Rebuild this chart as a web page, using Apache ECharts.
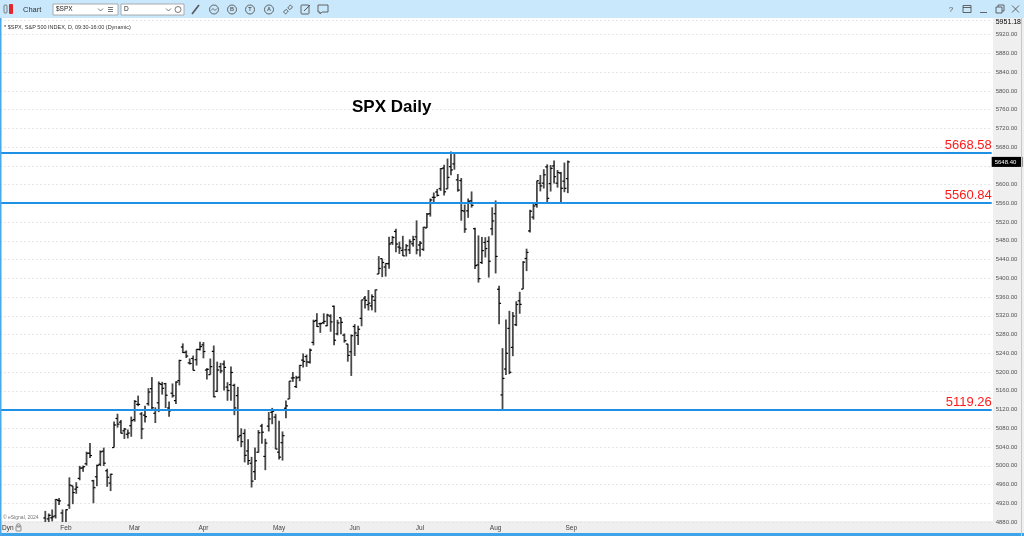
<!DOCTYPE html>
<html>
<head>
<meta charset="utf-8">
<script src="https://cdn.jsdelivr.net/npm/echarts@6/dist/echarts.min.js"></script>
<style>
html,body{margin:0;padding:0;background:#fff;}
#chart{width:1024px;height:536px;}
</style>
</head>
<body>
<div id="chart"></div>
<script>
// ---- data ----
const dates = [
 'Jan 24','Jan 25','Jan 26','Jan 29','Jan 30','Jan 31',
 'Feb 1','Feb 2','Feb 5','Feb 6','Feb 7','Feb 8','Feb 9','Feb 12','Feb 13','Feb 14','Feb 15','Feb 16','Feb 20','Feb 21','Feb 22','Feb 23','Feb 26','Feb 27','Feb 28','Feb 29',
 'Mar 1','Mar 4','Mar 5','Mar 6','Mar 7','Mar 8','Mar 11','Mar 12','Mar 13','Mar 14','Mar 15','Mar 18','Mar 19','Mar 20','Mar 21','Mar 22','Mar 25','Mar 26','Mar 27','Mar 28',
 'Apr 1','Apr 2','Apr 3','Apr 4','Apr 5','Apr 8','Apr 9','Apr 10','Apr 11','Apr 12','Apr 15','Apr 16','Apr 17','Apr 18','Apr 19','Apr 22','Apr 23','Apr 24','Apr 25','Apr 26','Apr 29','Apr 30',
 'May 1','May 2','May 3','May 6','May 7','May 8','May 9','May 10','May 13','May 14','May 15','May 16','May 17','May 20','May 21','May 22','May 23','May 24','May 28','May 29','May 30','May 31',
 'Jun 3','Jun 4','Jun 5','Jun 6','Jun 7','Jun 10','Jun 11','Jun 12','Jun 13','Jun 14','Jun 17','Jun 18','Jun 20','Jun 21','Jun 24','Jun 25','Jun 26','Jun 27','Jun 28',
 'Jul 1','Jul 2','Jul 3','Jul 5','Jul 8','Jul 9','Jul 10','Jul 11','Jul 12','Jul 15','Jul 16','Jul 17','Jul 18','Jul 19','Jul 22','Jul 23','Jul 24','Jul 25','Jul 26','Jul 29','Jul 30','Jul 31',
 'Aug 1','Aug 2','Aug 5','Aug 6','Aug 7','Aug 8','Aug 9','Aug 12','Aug 13','Aug 14','Aug 15','Aug 16','Aug 19','Aug 20','Aug 21','Aug 22','Aug 23','Aug 26','Aug 27','Aug 28','Aug 29','Aug 30'
];
const opens = [
 4888.56,4886.66,4888.91,4892.95,4925.89,4899.19,
 4861.11,4916.06,4957.19,4950.16,4973.05,4995.16,5004.17,5026.83,4967.94,4976.44,5003.14,5031.13,4989.32,4963.03,5038.83,5100.92,5093.00,5074.60,5067.20,5085.36,
 5098.51,5130.99,5110.52,5108.03,5132.38,5164.46,5111.96,5134.30,5173.49,5175.14,5123.31,5154.77,5139.09,5181.69,5253.43,5242.48,5219.52,5228.85,5226.31,5248.03,
 5257.97,5204.29,5194.37,5244.05,5158.95,5211.37,5217.03,5167.88,5172.95,5171.51,5149.67,5064.59,5068.97,5031.52,5005.44,4987.33,5028.85,5084.86,5019.88,5084.65,5114.13,5103.78,
 5029.03,5049.32,5122.78,5142.42,5187.20,5168.98,5189.03,5225.49,5233.08,5221.10,5263.26,5310.07,5303.10,5305.35,5298.69,5319.28,5340.26,5281.45,5315.91,5278.73,5259.77,5243.21,
 5297.15,5278.24,5314.48,5357.80,5343.81,5341.22,5353.00,5409.13,5441.93,5424.08,5431.11,5476.15,5499.99,5466.77,5459.58,5460.73,5460.71,5473.59,5488.48,
 5471.08,5461.84,5507.44,5537.91,5572.75,5584.24,5591.26,5635.21,5590.76,5638.16,5644.09,5610.07,5608.56,5543.37,5544.00,5565.30,5505.84,5428.70,5433.67,5476.55,5478.73,5505.59,
 5537.84,5376.63,5151.14,5206.42,5293.13,5252.57,5301.00,5351.88,5376.98,5442.31,5501.12,5530.50,5557.23,5602.88,5603.09,5637.77,5602.13,5639.66,5602.89,5624.51,5607.30,5612.74
];
const highs = [
 4903.68,4898.15,4906.69,4929.31,4931.09,4906.75,
 4906.97,4975.29,4957.19,4964.91,4999.89,5000.40,5030.06,5048.39,4969.95,5002.52,5032.72,5038.70,4993.71,4983.21,5094.39,5111.06,5097.66,5080.69,5077.37,5104.99,
 5140.33,5149.67,5114.54,5127.97,5165.62,5189.26,5124.66,5179.87,5179.14,5176.85,5136.86,5175.60,5180.31,5226.19,5261.10,5246.09,5229.09,5235.16,5249.26,5264.85,
 5263.95,5208.34,5228.75,5256.59,5222.18,5219.57,5224.81,5178.43,5211.78,5175.03,5168.43,5079.84,5077.96,5056.66,5019.02,5038.84,5076.12,5089.48,5057.75,5114.62,5123.49,5110.83,
 5096.12,5073.21,5139.12,5181.00,5200.23,5191.95,5215.30,5239.66,5237.26,5250.37,5311.76,5325.49,5305.45,5325.32,5324.32,5323.18,5341.88,5311.65,5315.91,5282.27,5260.21,5280.33,
 5302.11,5298.80,5354.16,5362.35,5375.08,5365.79,5375.95,5447.25,5441.93,5432.39,5488.50,5490.38,5505.53,5478.31,5490.66,5472.88,5483.14,5490.81,5523.64,
 5479.55,5509.69,5539.27,5570.33,5583.11,5590.75,5635.39,5642.45,5655.56,5670.84,5667.34,5622.49,5614.05,5557.50,5570.36,5585.34,5508.04,5491.59,5488.32,5487.74,5489.46,5551.51,
 5566.16,5383.89,5250.89,5312.34,5330.64,5328.03,5351.00,5371.20,5436.50,5463.22,5546.23,5561.98,5608.30,5620.51,5632.68,5643.22,5641.82,5651.62,5631.18,5627.03,5646.95,5651.37
];
const lows = [
 4865.94,4869.34,4881.47,4887.40,4916.27,4845.15,
 4853.52,4907.99,4918.09,4939.97,4969.05,4987.09,5000.34,5016.83,4920.05,4956.45,4999.44,4999.52,4955.02,4946.00,5038.83,5081.46,5068.91,5057.29,5058.35,5061.89,
 5094.16,5127.18,5056.82,5092.22,5128.21,5117.50,5091.14,5114.48,5151.88,5123.30,5104.35,5145.47,5131.59,5171.55,5240.66,5229.87,5216.09,5203.42,5213.92,5245.82,
 5229.20,5184.05,5194.37,5146.06,5157.21,5197.35,5160.78,5138.70,5138.77,5107.94,5052.47,5039.83,5007.25,5001.89,4953.56,4969.40,5027.96,5047.02,4990.58,5073.14,5088.65,5035.31,
 5013.45,5011.05,5101.22,5142.42,5178.96,5165.86,5180.41,5209.68,5211.16,5217.98,5256.93,5296.19,5283.59,5302.40,5297.87,5286.01,5256.93,5278.39,5280.89,5262.70,5222.10,5191.68,
 5234.32,5257.63,5297.64,5335.36,5331.33,5331.52,5327.25,5409.13,5402.51,5403.75,5420.40,5471.32,5455.56,5452.03,5447.59,5446.56,5451.87,5467.54,5451.12,
 5446.53,5458.43,5507.42,5531.63,5562.51,5574.57,5586.44,5576.53,5590.44,5619.70,5631.74,5584.81,5522.81,5497.04,5529.04,5550.90,5419.98,5390.95,5430.70,5444.44,5401.66,5491.71,
 5410.42,5302.03,5119.26,5193.56,5195.54,5233.85,5298.00,5324.37,5376.98,5415.38,5497.50,5525.17,5550.74,5585.50,5591.57,5560.95,5585.16,5602.34,5593.48,5560.95,5583.71,5581.79
];
const closes = [
 4868.55,4894.16,4890.97,4927.93,4924.97,4845.65,
 4906.19,4958.61,4942.81,4954.23,4995.06,4997.91,5026.61,5021.84,4953.17,5000.62,5029.73,5005.57,4975.51,4981.80,5087.03,5088.80,5069.53,5078.18,5069.76,5096.27,
 5137.08,5130.95,5078.65,5104.76,5157.36,5123.69,5117.94,5175.27,5165.31,5150.48,5117.09,5149.42,5178.51,5224.62,5241.53,5234.18,5218.19,5203.58,5248.49,5254.35,
 5243.77,5205.81,5211.49,5147.21,5204.34,5202.39,5209.91,5160.64,5199.06,5123.41,5061.82,5051.41,5022.21,5011.12,4967.23,5010.60,5070.55,5071.63,5048.42,5099.96,5116.17,5035.69,
 5018.39,5064.20,5127.79,5180.74,5187.70,5187.67,5214.08,5222.68,5221.42,5246.68,5308.15,5297.10,5303.27,5308.13,5321.41,5307.01,5267.84,5304.72,5306.04,5266.95,5235.48,5277.51,
 5283.40,5291.34,5354.03,5352.96,5346.99,5360.79,5375.32,5421.03,5433.74,5431.60,5473.23,5487.03,5473.17,5464.62,5447.87,5469.30,5477.90,5482.87,5460.48,
 5475.09,5509.01,5537.02,5567.19,5572.85,5576.98,5633.91,5584.54,5615.35,5631.22,5667.20,5588.27,5544.59,5505.00,5564.41,5555.74,5427.13,5399.22,5459.10,5463.54,5436.44,5522.30,
 5446.68,5346.56,5186.33,5240.03,5199.50,5319.31,5344.16,5344.39,5434.43,5455.21,5543.22,5554.25,5608.25,5597.12,5620.85,5570.64,5634.61,5616.84,5625.80,5592.18,5591.96,5648.40
];
const monthStartIdx = [6, 26, 46, 68, 90, 109, 131, 153];
const monthLabels = ['Feb','Mar','Apr','May','Jun','Jul','Aug','Sep'];
const levelValues = [5668.58, 5560.84, 5119.26];
const yMin = 4880, yMax = 5951.18, yStep = 40;
const titleText = 'SPX Daily';
const subtitleText = '* $SPX, S&P 500 INDEX, D, 09:30-16:00 (Dynamic)';

// ---- chart ----
const ohlc = dates.map((d, i) => [i, opens[i], highs[i], lows[i], closes[i]]);
const lastClose = closes[closes.length - 1];

function renderItem(params, api) {
  const x = api.value(0);
  const pO = api.coord([x, api.value(1)]);
  const pH = api.coord([x, api.value(2)]);
  const pL = api.coord([x, api.value(3)]);
  const pC = api.coord([x, api.value(4)]);
  const w = 2;
  return {
    type: 'group',
    children: [
      { type: 'line', shape: { x1: pH[0], y1: pH[1], x2: pL[0], y2: pL[1] }, style: { stroke: '#484848', lineWidth: 1.8 } },
      { type: 'line', shape: { x1: pO[0] - w, y1: pO[1], x2: pO[0], y2: pO[1] }, style: { stroke: '#000', lineWidth: 1.2 } },
      { type: 'line', shape: { x1: pC[0], y1: pC[1], x2: pC[0] + w, y2: pC[1] }, style: { stroke: '#000', lineWidth: 1.2 } }
    ]
  };
}

const F = 'Liberation Sans, Arial, sans-serif';
const icon = '#555';

const chart = echarts.init(document.getElementById('chart'), null, { renderer: 'canvas' });
chart.setOption({
  animation: false,
  backgroundColor: '#ffffff',
  title: {
    text: titleText, left: 347, top: 94,
    textStyle: { fontSize: 17, fontWeight: 'bold', color: '#000', fontFamily: F }
  },
  grid: { left: 0, right: 31, top: 20, bottom: 14 },
  xAxis: {
    type: 'value', min: -13.18, max: 275.3,
    axisLine: { show: false }, axisTick: { show: false }, splitLine: { show: false },
    axisLabel: {
      customValues: monthStartIdx,
      margin: 3,
      fontSize: 6.5, color: '#444', fontFamily: F,
      formatter: v => { const k = monthStartIdx.indexOf(Math.round(v)); return k >= 0 ? monthLabels[k] : ''; }
    }
  },
  yAxis: {
    type: 'value', position: 'right', min: yMin, max: yMax, interval: yStep,
    axisLine: { show: false }, axisTick: { show: false },
    splitLine: { show: true, lineStyle: { color: '#e6e6e6', type: [2, 2], width: 1 } },
    axisLabel: {
      margin: 4, fontSize: 6, color: '#555', fontFamily: F,
      showMinLabel: true, showMaxLabel: true,
      formatter: v => v > yMax - 1 ? '{m|' + v.toFixed(2) + '}' : v.toFixed(2),
      rich: { m: { fontSize: 7, color: '#000', fontFamily: F, padding: [5, 0, 0, 0] } }
    }
  },
  series: [
    {
      type: 'custom', name: 'SPX', renderItem: renderItem, data: ohlc, clip: true,
      encode: { x: 0, y: [1, 2, 3, 4] }, z: 3
    },
    {
      type: 'line', data: [], silent: true, z: 2,
      markLine: {
        silent: true, symbol: 'none', animation: false,
        data: levelValues.map(v => ({
          yAxis: v,
          lineStyle: { color: '#1e90e6', width: 2, type: 'solid' },
          label: {
            show: true, position: 'insideEndTop', distance: [0, 1],
            formatter: p => Number(p.value).toFixed(2),
            color: '#ff1a1a', fontSize: 13, fontFamily: F
          }
        })).concat([{
          yAxis: lastClose,
          lineStyle: { color: 'rgba(0,0,0,0)', width: 1 },
          label: {
            show: true, position: 'end', distance: 0,
            formatter: p => Number(p.value).toFixed(2),
            color: '#fff', backgroundColor: '#000', fontSize: 6, fontFamily: F,
            padding: [2, 6, 2, 3]
          }
        }])
      }
    }
  ],
  graphic: [
    // axis bands
    { type: 'rect', z: -10, shape: { x: 993, y: 18, width: 31, height: 518 }, style: { fill: '#efefef' } },
    { type: 'rect', z: -10, shape: { x: 0, y: 521, width: 1024, height: 15 }, style: { fill: '#efefef' } },
    { type: 'rect', z: 50, shape: { x: 0, y: 533, width: 1024, height: 3 }, style: { fill: '#3fa3ea' } },
    { type: 'rect', z: 50, shape: { x: 0, y: 18, width: 1.5, height: 518 }, style: { fill: '#4aa8ea' } },
    { type: 'rect', z: 50, shape: { x: 1021, y: 18, width: 1, height: 518 }, style: { fill: '#c8c8c8' } },
    // toolbar
    { type: 'rect', z: 40, shape: { x: 0, y: 0, width: 1024, height: 18 }, style: { fill: '#c9e8fb' } },
    { type: 'rect', z: 41, shape: { x: 4, y: 5, width: 3, height: 8, r: 1 }, style: { fill: 'none', stroke: '#666', lineWidth: 0.8 } },
    { type: 'rect', z: 41, shape: { x: 9, y: 4, width: 4, height: 10, r: 1 }, style: { fill: '#e3262b' } },
    { type: 'text', z: 41, style: { x: 23, y: 9.5, text: 'Chart', fontSize: 7.5, fill: '#333', verticalAlign: 'middle', fontFamily: F } },
    { type: 'rect', z: 41, shape: { x: 53, y: 4, width: 65, height: 11 }, style: { fill: '#fff', stroke: '#9a9a9a', lineWidth: 0.8 } },
    { type: 'text', z: 42, style: { x: 56, y: 9.7, text: '$SPX', fontSize: 6.5, fill: '#222', verticalAlign: 'middle', fontFamily: F } },
    { type: 'polyline', z: 42, shape: { points: [[98, 8.5], [100.5, 11], [103, 8.5]] }, style: { stroke: '#555', fill: 'none', lineWidth: 0.8 } },
    { type: 'line', z: 42, shape: { x1: 108, y1: 7.5, x2: 113, y2: 7.5 }, style: { stroke: '#555', lineWidth: 0.8 } },
    { type: 'line', z: 42, shape: { x1: 108, y1: 9.5, x2: 113, y2: 9.5 }, style: { stroke: '#555', lineWidth: 0.8 } },
    { type: 'line', z: 42, shape: { x1: 108, y1: 11.5, x2: 113, y2: 11.5 }, style: { stroke: '#555', lineWidth: 0.8 } },
    { type: 'rect', z: 41, shape: { x: 121, y: 4, width: 63, height: 11 }, style: { fill: '#fff', stroke: '#9a9a9a', lineWidth: 0.8 } },
    { type: 'text', z: 42, style: { x: 124, y: 9.7, text: 'D', fontSize: 6.5, fill: '#222', verticalAlign: 'middle', fontFamily: F } },
    { type: 'polyline', z: 42, shape: { points: [[166, 8.5], [168.5, 11], [171, 8.5]] }, style: { stroke: '#555', fill: 'none', lineWidth: 0.8 } },
    { type: 'circle', z: 42, shape: { cx: 178, cy: 9.5, r: 3 }, style: { stroke: '#555', fill: 'none', lineWidth: 0.8 } },
    // tool icons
    { type: 'line', z: 41, shape: { x1: 192, y1: 14, x2: 199, y2: 5 }, style: { stroke: icon, lineWidth: 1.6 } },
    { type: 'circle', z: 41, shape: { cx: 214, cy: 9.5, r: 4.5 }, style: { stroke: icon, fill: 'none', lineWidth: 0.9 } },
    { type: 'polyline', z: 41, shape: { points: [[211, 10.5], [213, 8.5], [215, 10.5], [217, 8.5]] }, style: { stroke: icon, fill: 'none', lineWidth: 0.8 } },
    { type: 'circle', z: 41, shape: { cx: 232, cy: 9.5, r: 4.5 }, style: { stroke: icon, fill: 'none', lineWidth: 0.9 } },
    { type: 'text', z: 41, style: { x: 232, y: 9.8, text: 'B', fontSize: 5.5, fill: icon, align: 'center', verticalAlign: 'middle', fontWeight: 'bold', fontFamily: F } },
    { type: 'circle', z: 41, shape: { cx: 250, cy: 9.5, r: 4.5 }, style: { stroke: icon, fill: 'none', lineWidth: 0.9 } },
    { type: 'text', z: 41, style: { x: 250, y: 9.8, text: 'T', fontSize: 5.5, fill: icon, align: 'center', verticalAlign: 'middle', fontWeight: 'bold', fontFamily: F } },
    { type: 'circle', z: 41, shape: { cx: 269, cy: 9.5, r: 4.5 }, style: { stroke: icon, fill: 'none', lineWidth: 0.9 } },
    { type: 'text', z: 41, style: { x: 269, y: 9.8, text: 'A', fontSize: 5.5, fill: icon, align: 'center', verticalAlign: 'middle', fontWeight: 'bold', fontFamily: F } },
    { type: 'rect', z: 41, rotation: Math.PI / 4, originX: 288, originY: 9.5, shape: { x: 283, y: 8, width: 4, height: 3, r: 1 }, style: { stroke: icon, fill: 'none', lineWidth: 0.9 } },
    { type: 'rect', z: 41, rotation: Math.PI / 4, originX: 288, originY: 9.5, shape: { x: 289, y: 8, width: 4, height: 3, r: 1 }, style: { stroke: icon, fill: 'none', lineWidth: 0.9 } },
    { type: 'rect', z: 41, shape: { x: 301, y: 5, width: 8, height: 9, r: 1 }, style: { stroke: icon, fill: 'none', lineWidth: 0.9 } },
    { type: 'line', z: 41, shape: { x1: 304, y1: 11, x2: 310, y2: 5 }, style: { stroke: icon, lineWidth: 1 } },
    { type: 'polygon', z: 41, shape: { points: [[318, 5], [328, 5], [328, 12], [322, 12], [320, 14], [320, 12], [318, 12]] }, style: { stroke: icon, fill: 'none', lineWidth: 0.9 } },
    // window controls
    { type: 'text', z: 41, style: { x: 951, y: 9.5, text: '?', fontSize: 8, fill: '#555', align: 'center', verticalAlign: 'middle', fontFamily: F } },
    { type: 'rect', z: 41, shape: { x: 963, y: 5.5, width: 8, height: 7 }, style: { stroke: '#555', fill: 'none', lineWidth: 0.9 } },
    { type: 'line', z: 41, shape: { x1: 963, y1: 7.5, x2: 971, y2: 7.5 }, style: { stroke: '#555', lineWidth: 0.9 } },
    { type: 'line', z: 41, shape: { x1: 980, y1: 12.5, x2: 987, y2: 12.5 }, style: { stroke: '#555', lineWidth: 0.9 } },
    { type: 'rect', z: 41, shape: { x: 996, y: 7, width: 6, height: 6 }, style: { stroke: '#555', fill: 'none', lineWidth: 0.9 } },
    { type: 'polyline', z: 41, shape: { points: [[998, 7], [998, 5], [1004, 5], [1004, 11], [1002, 11]] }, style: { stroke: '#555', fill: 'none', lineWidth: 0.9 } },
    { type: 'line', z: 41, shape: { x1: 1012, y1: 5.5, x2: 1019, y2: 12.5 }, style: { stroke: '#555', lineWidth: 0.9 } },
    { type: 'line', z: 41, shape: { x1: 1019, y1: 5.5, x2: 1012, y2: 12.5 }, style: { stroke: '#555', lineWidth: 0.9 } },
    // texts
    { type: 'text', z: 41, style: { x: 4, y: 27, text: subtitleText, fontSize: 5.5, fill: '#333', verticalAlign: 'middle', fontFamily: F } },
    { type: 'text', z: 41, style: { x: 3, y: 518, text: '© eSignal, 2024', fontSize: 5, fill: '#777', verticalAlign: 'middle', fontFamily: F } },
    { type: 'text', z: 41, style: { x: 2, y: 528, text: 'Dyn', fontSize: 6.5, fill: '#333', verticalAlign: 'middle', fontFamily: F } },
    { type: 'rect', z: 41, shape: { x: 16, y: 526, width: 5, height: 5, r: 0.5 }, style: { stroke: '#777', fill: 'none', lineWidth: 0.8 } },
    { type: 'circle', z: 41, shape: { cx: 18.5, cy: 525.5, r: 1.8 }, style: { stroke: '#777', fill: 'none', lineWidth: 0.8 } }
  ]
});
</script>
</body>
</html>
